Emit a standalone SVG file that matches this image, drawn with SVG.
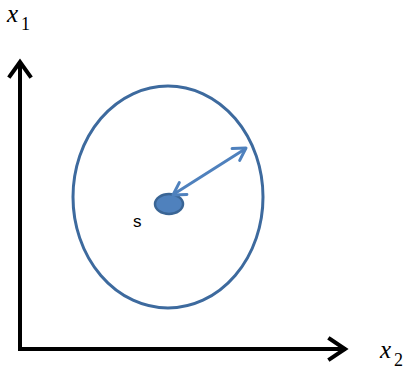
<svg xmlns="http://www.w3.org/2000/svg" width="406" height="369" viewBox="0 0 406 369">
<style>
.axis{stroke:#000;stroke-width:4;fill:none;stroke-linecap:square}
.lbl{font-family:"Liberation Serif",serif;font-style:italic;font-size:25px;fill:#000}
.sub{font-family:"Liberation Serif",serif;font-size:18px;fill:#000}
.arr{stroke:#4f81bd;stroke-width:3;fill:none;stroke-linecap:round;stroke-linejoin:round}
</style>
<rect width="406" height="369" fill="#fff"/>
<g id="axes">
<path class="axis" d="M20,64 L20,349 L344,349"/>
<path class="axis" d="M10,76 L20,62 L30,76" stroke-linejoin="miter"/>
<path class="axis" d="M330,339 L345,349 L330,359"/>
</g>
<g id="x1-label"><text class="lbl" x="7" y="22">x</text><text class="sub" x="21" y="30">1</text></g>
<g id="x2-label"><text class="lbl" x="380" y="358">x</text><text class="sub" x="394" y="366">2</text></g>
<g id="region"><ellipse cx="168" cy="197" rx="95" ry="111" fill="none" stroke="#3d6a9e" stroke-width="3"/></g>
<g id="s-node"><ellipse cx="169" cy="204" rx="14" ry="10" fill="#4f81bd" stroke="#3a6595" stroke-width="2.5"/><text x="133" y="227" font-family="Liberation Sans,sans-serif" font-size="17" fill="#000">s</text></g>
<g id="connectors">
<line class="arr" x1="174" y1="194" x2="245" y2="149"/>
<path class="arr" d="M239.7,160.4 L246,148 L232.1,148.6"/>
<path class="arr" d="M186.9,194.4 L173,195 L179.3,182.6"/>
</g>
</svg>
